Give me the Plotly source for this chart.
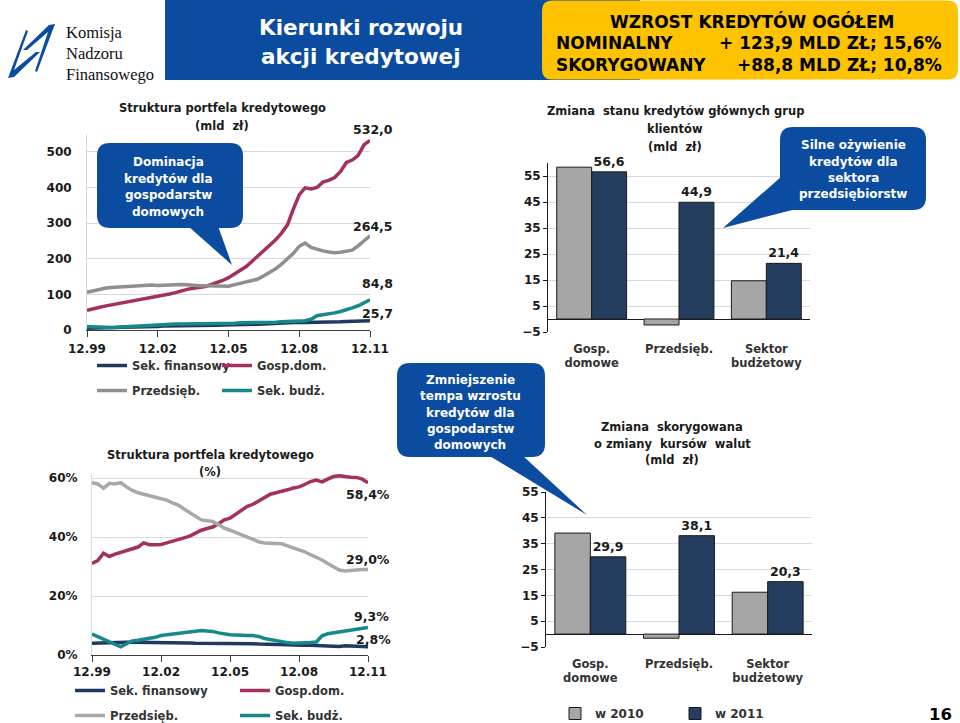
import plotly.graph_objects as go

W, H = 960, 723

# ---------------- data ----------------
dates = []
for k in range(49):
    mi = 11 + 3 * k
    dates.append(f"{1999 + mi // 12}-{mi % 12 + 1:02d}-01")

tick_dates = ["1999-12-01", "2002-12-01", "2005-12-01", "2008-12-01", "2011-12-01"]
tick_text = ["12.99", "12.02", "12.05", "12.08", "12.11"]

series_names = ["Sek. finansowy", "Gosp.dom.", "Przedsięb.", "Sek. budż."]

# portfolio structure, bn PLN (quarterly, 12.99 - 12.11)
mld_fin = [5, 5, 6, 6, 7, 7, 8, 8, 9, 9, 10, 10, 10, 11, 11, 11, 12, 12, 12, 12, 13, 13, 13, 14, 14,
           14, 15, 15, 16, 16, 17, 18, 19, 20, 21, 21, 22, 21, 21, 22, 22, 22, 23, 23, 24, 24, 25, 25, 25.7]
mld_gosp = [55, 58, 63, 67, 70, 74, 77, 79, 81, 84, 87, 91, 94, 97, 101, 105, 110, 114, 117, 119, 122, 127,
            132, 139, 147, 157, 167, 178, 193, 207, 222, 237, 253, 272, 295, 340, 380, 399, 396, 400, 415,
            420, 428, 445, 470, 477, 490, 520, 532.0]
mld_prz = [106, 110, 114, 117, 119, 120, 121, 122, 124, 123, 125, 126, 125, 126, 127, 126, 128, 127, 125, 124,
           124, 124, 123, 122, 123, 127, 132, 135, 139, 143, 152, 162, 172, 185, 200, 215, 235, 244, 232, 226,
           222, 219, 217, 218, 220, 224, 236, 250, 264.5]
mld_bud = [10, 9, 8, 8, 7, 8, 9, 10, 12, 13, 14, 15, 16, 17, 17, 17, 17, 17, 17, 18, 18, 18, 19, 19, 19, 19,
           20, 20, 21, 21, 21, 22, 22, 23, 24, 24, 25, 26, 30, 40, 43, 45, 48, 52, 56, 62, 68, 76, 84.8]

# portfolio structure, %
pct_fin = [4.0, 4.1, 4.2, 4.2, 4.3, 4.3, 4.3, 4.3, 4.3, 4.3, 4.3, 4.3, 4.3, 4.2, 4.2, 4.1, 4.1, 4.1, 4.0, 4.0,
           3.9, 3.9, 3.9, 3.8, 3.8, 3.8, 3.8, 3.8, 3.8, 3.7, 3.7, 3.7, 3.6, 3.6, 3.5, 3.4, 3.2, 3.3, 3.3, 3.2,
           3.0, 2.8, 2.8, 2.9, 3.1, 3.0, 3.0, 2.9, 2.8]
pct_gosp = [31.0, 32.0, 34.5, 33.4, 34.2, 34.8, 35.5, 36.2, 36.6, 38.0, 37.4, 37.4, 37.5, 38.0, 38.5, 39.2,
            39.7, 40.3, 41.3, 42.3, 42.9, 43.4, 44.5, 45.8, 46.4, 47.7, 49.1, 50.4, 51.1, 52.3, 53.5, 54.5,
            55.0, 55.4, 56.0, 56.6, 57.0, 57.8, 58.8, 59.3, 58.7, 59.6, 60.5, 60.8, 60.4, 60.3, 60.2, 59.6, 58.4]
pct_prz = [58.4, 58.0, 56.5, 58.2, 58.0, 58.4, 57.0, 55.8, 55.0, 54.4, 54.0, 53.5, 53.1, 52.5, 51.6, 50.8,
           49.5, 48.3, 47.2, 45.8, 45.5, 45.3, 44.2, 43.0, 42.3, 41.5, 40.6, 39.8, 38.9, 38.4, 38.0, 37.8,
           37.8, 37.7, 37.0, 36.3, 35.7, 35.0, 34.0, 33.2, 32.2, 31.0, 29.8, 28.8, 28.5, 28.7, 28.9, 29.0, 29.0]
pct_bud = [7.1, 6.2, 5.5, 4.6, 3.8, 2.8, 3.8, 4.8, 5.0, 5.3, 5.5, 6.0, 6.6, 6.8, 7.1, 7.3, 7.6, 7.8, 8.1, 8.3,
           8.1, 8.0, 7.5, 7.1, 6.9, 6.8, 6.6, 6.6, 6.6, 6.3, 5.6, 5.2, 4.8, 4.4, 4.2, 4.0, 4.0, 4.0, 4.2, 4.4,
           6.5, 7.2, 7.5, 7.8, 8.1, 8.3, 8.7, 9.0, 9.3]

mld_ticks = [0, 100, 200, 300, 400, 500]
pct_ticks = [0, 20, 40, 60]
pct_tick_text = ["0%", "20%", "40%", "60%"]

# change in loans of main client groups, bn PLN
bar_cats = ["Gosp.<br>domowe", "Przedsięb.", "Sektor<br>budżetowy"]
bar_years = ["w 2010", "w 2011"]
nom_2010 = [58.4, -2.3, 14.7]
nom_2011 = [56.6, 44.9, 21.4]
adj_2010 = [39.1, -1.6, 16.2]
adj_2011 = [29.9, 38.1, 20.3]

# ---------------- style ----------------
F = "DejaVu Sans"
NAVY = "#1f3a60"
MAG = "#a3305f"
GRAY_T = "#8f8f8f"
GRAY_B = "#a8a8a8"
TEAL = "#16898a"
BAR_GRAY = "#a6a6a6"
BAR_NAVY = "#253d5f"
BLUE = "#0c4ca0"
YELLOW = "#fdc300"
TXT = "#1a1a1a"
GRID = "#d9d9d9"


def px(x):
    return x / W


def py(y):
    return 1 - y / H


def fmt(v, suf=""):
    return f"{v:.1f}".replace(".", ",") + suf


def bf(size, color=TXT):
    return dict(family=F, size=size, color=color, weight="bold")


fig = go.Figure()

# line charts
top_sets = [mld_fin, mld_gosp, mld_prz, mld_bud]
pct_sets = [pct_fin, pct_gosp, pct_prz, pct_bud]
cols_t = [NAVY, MAG, GRAY_T, TEAL]
cols_b = [NAVY, MAG, GRAY_B, TEAL]
legs_t = ["legend", "legend2", "legend", "legend2"]
legs_b = ["legend3", "legend4", "legend3", "legend4"]
for i, nm in enumerate(series_names):
    fig.add_trace(go.Scatter(x=dates, y=top_sets[i], mode="lines", name=nm,
                             line=dict(color=cols_t[i], width=3.5), legend=legs_t[i],
                             legendgroup=f"t{i}", xaxis="x", yaxis="y", hoverinfo="skip"))
for i, nm in enumerate(series_names):
    fig.add_trace(go.Scatter(x=dates, y=pct_sets[i], mode="lines", name=nm,
                             line=dict(color=cols_b[i], width=3.5), legend=legs_b[i],
                             legendgroup=f"b{i}", xaxis="x2", yaxis="y2", hoverinfo="skip"))

# bar charts
for vals, col, yr, ax, show in [(nom_2010, BAR_GRAY, bar_years[0], 3, False),
                                (nom_2011, BAR_NAVY, bar_years[1], 3, False),
                                (adj_2010, BAR_GRAY, bar_years[0], 4, True),
                                (adj_2011, BAR_NAVY, bar_years[1], 4, True)]:
    kw = {}
    if yr == bar_years[1]:
        kw = dict(text=[fmt(v) for v in vals], textposition="outside", textfont=bf(12.5),
                  cliponaxis=False)
    fig.add_trace(go.Bar(x=bar_cats, y=vals, name=yr, showlegend=show, legend="legend5",
                         marker=dict(color=col, line=dict(color="#1a1a1a", width=1)),
                         xaxis=f"x{ax}", yaxis=f"y{ax}", hoverinfo="skip", **kw))

# end labels for line charts
annotations = []
for vals, dx, dy in [(mld_gosp, 3, 11), (mld_prz, 3, 9), (mld_bud, 7, 16), (mld_fin, 7, 7)]:
    annotations.append(dict(x=dates[-1], y=vals[-1], xref="x", yref="y", text=fmt(vals[-1]),
                            showarrow=False, xshift=dx, yshift=dy, font=bf(12.5)))
for vals, dx, dy in [(pct_gosp, 0, -12), (pct_prz, 0, 10), (pct_bud, 3, 11), (pct_fin, 5, 7)]:
    annotations.append(dict(x=dates[-1], y=vals[-1], xref="x2", yref="y2", text=fmt(vals[-1], "%"),
                            showarrow=False, xshift=dx, yshift=dy, font=bf(12.5)))


def txt(x, y, s, font, xanchor="center"):
    annotations.append(dict(x=px(x), y=py(y), xref="paper", yref="paper", text=s, showarrow=False,
                            xanchor=xanchor, yanchor="middle", font=font))


def lines(x, y0, step, items, font):
    for k, s in enumerate(items):
        txt(x, y0 + k * step, s, font)


# header texts
serif = dict(family="Liberation Serif", size=16.5, color="#111")
txt(64, 33, "Komisja", serif, "left")
txt(64, 54, "Nadzoru", serif, "left")
txt(64, 75, "Finansowego", serif, "left")
txt(361, 28, "Kierunki rozwoju", bf(21.5, "white"))
txt(361, 57, "akcji kredytowej", bf(21.5, "white"))
txt(752, 21, "WZROST KREDYTÓW OGÓŁEM", bf(17, "#000"))
txt(554, 43, "NOMINALNY", bf(17, "#000"), "left")
txt(944, 43, "+ 123,9 MLD ZŁ; 15,6%", bf(17, "#000"), "right")
txt(554, 65, "SKORYGOWANY", bf(17, "#000"), "left")
txt(944, 65, "+88,8 MLD ZŁ; 10,8%", bf(17, "#000"), "right")

# chart titles
lines(222, 108, 17.5, ["Struktura portfela kredytowego", "(mld  zł)"], bf(11.5))
lines(675, 111, 18, ["Zmiana  stanu kredytów głównych grup", "klientów", "(mld  zł)"], bf(11.5))
lines(210, 455, 17, ["Struktura portfela kredytowego", "(%)"], bf(11.5))
lines(672, 427, 16.5, ["Zmiana  skorygowana", "o zmiany  kursów  walut", "(mld  zł)"], bf(11.5))

# callout texts
lines(168, 162, 16.6, ["Dominacja", "kredytów dla", "gospodarstw", "domowych"], bf(12, "white"))
lines(853, 145, 16.5, ["Silne ożywienie", "kredytów dla", "sektora", "przedsiębiorstw"], bf(12, "white"))
lines(470, 380, 16.3, ["Zmniejszenie", "tempa wzrostu", "kredytów dla", "gospodarstw", "domowych"],
      bf(12, "white"))

txt(940, 714, "16", bf(16.5, "#000"))


# ---------------- shapes ----------------
def P(x, y):
    return f"{px(x):.5f},{py(y):.5f}"


def rrect(x0, y0, x1, y1, r):
    return (f"M{P(x0 + r, y0)} L{P(x1 - r, y0)} Q{P(x1, y0)} {P(x1, y0 + r)} "
            f"L{P(x1, y1 - r)} Q{P(x1, y1)} {P(x1 - r, y1)} L{P(x0 + r, y1)} "
            f"Q{P(x0, y1)} {P(x0, y1 - r)} L{P(x0, y0 + r)} Q{P(x0, y0)} {P(x0 + r, y0)} Z")


def poly(*pts):
    return "M" + " L".join(P(*p) for p in pts) + " Z"


shapes = []


def shp(path, color):
    shapes.append(dict(type="path", path=path, xref="paper", yref="paper",
                       fillcolor=color, line=dict(width=0)))


shp(poly((165, 0), (640, 0), (640, 80), (165, 80)), BLUE)
shp(rrect(542, 0.5, 958, 79.5, 10), YELLOW)
# logo (two interlocking swooshes)
shp(poly((26, 30), (8, 78), (14, 77), (40, 52), (36, 52), (14, 70), (28, 31)), BLUE)
shp(poly((37, 72), (55, 24), (49, 25), (23, 50), (27, 50), (48, 32), (35, 71)), BLUE)
# callouts
shp(rrect(97, 143, 243, 228, 13), BLUE)
shp(poly((188, 226), (218, 226), (232, 265)), BLUE)
shp(rrect(780, 127, 926, 210, 13), BLUE)
shp(poly((782, 176), (800, 208), (723, 228)), BLUE)
shp(rrect(397, 363, 545, 457, 13), BLUE)
shp(poly((488, 455), (522, 455), (587, 515)), BLUE)

# ---------------- layout ----------------
tickf = bf(12)


def line_x(standoff):
    return dict(type="date", range=[dates[0], dates[-1]], tickmode="array", tickvals=tick_dates,
                ticktext=tick_text, ticks="outside", ticklen=6, tickcolor="#404040", showline=True,
                linecolor="#404040", linewidth=1, showgrid=False, zeroline=False, tickfont=tickf,
                automargin=False, ticklabelstandoff=standoff)


def line_y(standoff):
    return dict(showgrid=True, gridcolor=GRID, showline=True, linecolor=GRID, ticks="",
                zeroline=False, tickfont=tickf, ticklabelstandoff=standoff, automargin=False,
                tickmode="array")


def bar_x():
    return dict(type="category", showline=False, ticks="", showgrid=False,
                tickfont=bf(11.5, "#333"), automargin=False, ticklabelstandoff=8)


bar_y = dict(tickmode="linear", tick0=-5, dtick=10, showgrid=True, gridcolor=GRID, showline=True,
             linecolor="#1a1a1a", ticks="outside", ticklen=4, tickcolor="#1a1a1a", zeroline=True,
             zerolinecolor="#1a1a1a", zerolinewidth=1, tickfont=tickf, automargin=False)

leg = dict(xanchor="left", yanchor="top", orientation="v", font=bf(11.5, "#333"),
           bgcolor="rgba(0,0,0,0)", tracegroupgap=6, traceorder="grouped", itemwidth=30)

fig.update_layout(
    template="none",
    width=W, height=H, autosize=False,
    margin=dict(l=0, r=0, t=0, b=0, pad=0, autoexpand=False),
    paper_bgcolor="white", plot_bgcolor="white", font=dict(family=F, color=TXT),
    barmode="group", bargap=0.2, bargroupgap=0,
    xaxis=dict(domain=[px(87), px(370)], anchor="y", **line_x(2)),
    yaxis=dict(domain=[py(330), py(134)], anchor="x", range=[0, 550],
               tickvals=mld_ticks, **line_y(12)),
    xaxis2=dict(domain=[px(92), px(368)], anchor="y2", **line_x(0)),
    yaxis2=dict(domain=[py(655), py(473.6)], anchor="x2", range=[0, 61.5],
                tickvals=pct_ticks, ticktext=pct_tick_text, **line_y(11)),
    xaxis3=dict(domain=[px(548), px(810)], anchor="y3", **bar_x()),
    yaxis3=dict(domain=[py(332), py(163)], anchor="x3", range=[-5, 60], **bar_y),
    xaxis4=dict(domain=[px(546), px(812)], anchor="y4", **bar_x()),
    yaxis4=dict(domain=[py(647), py(492)], anchor="x4", range=[-5, 55], **bar_y),
    legend=dict(x=px(92), y=py(351), **leg),
    legend2=dict(x=px(217), y=py(351), **leg),
    legend3=dict(x=px(70), y=py(676), **leg),
    legend4=dict(x=px(235), y=py(676), **leg),
    legend5=dict(x=px(555), y=py(699), xanchor="left", yanchor="top", orientation="h",
                 font=bf(12, "#333"), bgcolor="rgba(0,0,0,0)", entrywidth=75,
                 entrywidthmode="pixels", itemwidth=30),
    annotations=annotations,
    shapes=shapes,
    showlegend=True,
)

fig.write_html("out.html", config={"displayModeBar": False},
               post_script="document.body.style.margin='0px';")
